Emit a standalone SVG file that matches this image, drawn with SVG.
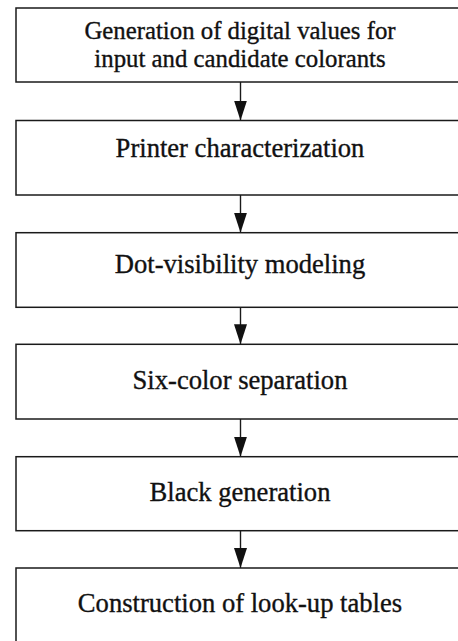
<svg xmlns="http://www.w3.org/2000/svg" width="458" height="641" viewBox="0 0 458 641">
<style>
.box{fill:#fff;stroke:#1a1a1a;stroke-width:1.5}
.t{font-family:"Liberation Serif","Times New Roman",serif;font-size:26.6px;fill:#111;stroke:#111;stroke-width:0.35;text-anchor:middle}
.t1{font-size:24.8px}
.c{stroke:#1a1a1a;stroke-width:1.4;fill:none}
</style>
<defs>
<marker id="arr" markerUnits="userSpaceOnUse" markerWidth="20" markerHeight="13" refX="20" refY="6.5" orient="auto" viewBox="0 0 20 13">
<path d="M0,0 L20,6.5 L0,13 Z" fill="#111"/>
</marker>
</defs>
<rect width="458" height="641" fill="#fff"/>
<g id="connectors">
<line class="c" x1="240.5" y1="82" x2="240.5" y2="120.5" marker-end="url(#arr)"/>
<line class="c" x1="240.5" y1="195" x2="240.5" y2="232.7" marker-end="url(#arr)"/>
<line class="c" x1="240.5" y1="307.3" x2="240.5" y2="344.3" marker-end="url(#arr)"/>
<line class="c" x1="240.5" y1="419" x2="240.5" y2="456.7" marker-end="url(#arr)"/>
<line class="c" x1="240.5" y1="530.7" x2="240.5" y2="568" marker-end="url(#arr)"/>
</g>
<g id="n1">
<rect class="box" x="16" y="8" width="449" height="74"/>
<text class="t t1" x="240" y="38.5">Generation of digital values for</text>
<text class="t t1" x="240" y="67">input and candidate colorants</text>
</g>
<g id="n2">
<rect class="box" x="16" y="120.5" width="449" height="74.5"/>
<text class="t" x="240" y="157.3">Printer characterization</text>
</g>
<g id="n3">
<rect class="box" x="16" y="232.7" width="449" height="74.6"/>
<text class="t" x="240" y="273.3">Dot-visibility modeling</text>
</g>
<g id="n4">
<rect class="box" x="16" y="344.3" width="449" height="74.7"/>
<text class="t" x="240" y="389.3">Six-color separation</text>
</g>
<g id="n5">
<rect class="box" x="16" y="456.7" width="449" height="74"/>
<text class="t" x="240" y="501">Black generation</text>
</g>
<g id="n6">
<rect class="box" x="16" y="568" width="449" height="80"/>
<text class="t" x="240" y="611.7">Construction of look-up tables</text>
</g>
</svg>
